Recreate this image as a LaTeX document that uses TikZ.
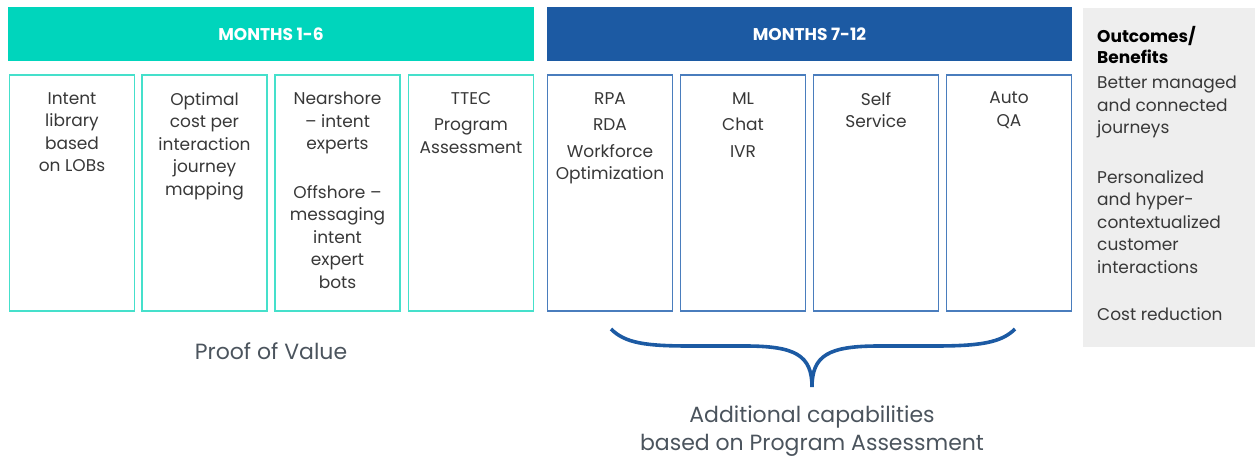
\documentclass[tikz,border=0pt]{standalone}
\usepackage{fontspec}
\setmainfont{Poppins}
\definecolor{teal1}{HTML}{00D5BC}
\definecolor{tealb}{HTML}{45E0CB}
\definecolor{blue1}{HTML}{1C5AA3}
\definecolor{blueb}{HTML}{4A7DBD}
\definecolor{gray1}{HTML}{EEEEEE}
\definecolor{txt}{HTML}{383838}
\definecolor{lbl}{HTML}{4B545D}
\begin{document}
\begin{tikzpicture}[x=1pt,y=-1pt,
  hdr/.style={fill=#1,draw=none,minimum height=54pt,text=white,font=\fontsize{17}{20}\selectfont\bfseries},
  cell/.style={draw=#1,line width=1.6pt,minimum height=236pt,minimum width=125pt,inner sep=0pt},
  ctext/.style={anchor=north,align=center,text=txt,font=\fontsize{17}{22.5}\selectfont,inner sep=0pt},
  otext/.style={anchor=north west,align=left,text=txt,font=\fontsize{17}{22.5}\selectfont,inner sep=0pt},
  captxt/.style={text=lbl,font=\fontsize{22}{28.5}\selectfont,align=center,inner sep=0pt}]
\useasboundingbox (0,0) rectangle (1255,460);
% headers
\node[hdr=teal1,minimum width=526pt] (h1) at (271,34) {MONTHS 1-6};
\node[hdr=blue1,minimum width=525pt] (h2) at (809.5,34) {MONTHS 7-12};
% outcomes panel
\node[fill=gray1,minimum width=172pt,minimum height=339pt,inner sep=0pt] (out) at (1169,177.5) {};
\node[otext,font=\fontsize{17}{21}\selectfont\bfseries,text=black] (ot) at (1097,26) {Outcomes/\\Benefits};
\node[otext] (o1) at (1097,76) {Better managed\\and connected\\journeys};
\node[otext] (o2) at (1097,170) {Personalized\\and hyper-\\contextualized\\customer\\interactions};
\node[otext] (o3) at (1097,307) {Cost reduction};
% teal cells
\node[cell=tealb] (t1) at (72,193) {};
\node[cell=tealb] (t2) at (204.5,193) {};
\node[cell=tealb] (t3) at (337.5,193) {};
\node[cell=tealb] (t4) at (471,193) {};
% blue cells
\node[cell=blueb] (b1) at (610,193) {};
\node[cell=blueb] (b2) at (743,193) {};
\node[cell=blueb] (b3) at (876,193) {};
\node[cell=blueb] (b4) at (1009,193) {};
% cell texts
\node[ctext] (t1x) at (72,92) {Intent\\library\\based\\on LOBs};
\node[ctext] (t2x) at (204.5,92) {Optimal\\cost per\\interaction\\journey\\mapping};
\node[ctext] (t3x) at (337.5,92) {Nearshore\\– intent\\experts\\[26pt]Offshore –\\messaging\\intent\\expert\\bots};
\node[ctext] (t4x) at (471,92) {TTEC\\[4pt]Program\\Assessment};
\node[ctext] (b1x) at (610,92) {RPA\\[4pt]RDA\\[4pt]Workforce\\Optimization};
\node[ctext] (b2x) at (743,92) {ML\\[4pt]Chat\\[4pt]IVR};
\node[ctext] (b3x) at (876,92) {Self\\Service};
\node[ctext] (b4x) at (1009,92) {Auto\\QA};
% captions
\node[captxt] (pov) at (271,351) {Proof of Value};
\node[captxt] (add) at (812,431) {Additional capabilities\\based on Program Assessment};
% brace
\coordinate (bl) at (611,329);
\coordinate (br) at (1015,329);
\coordinate (bt) at (812,387);
\draw[blue1,line width=3.6pt]
  (bl) .. controls (625,343) and (645,346) .. (690,346)
  -- (745,346) .. controls (795,346) and (812,355) .. (bt)
  .. controls (812,355) and (829,346) .. (879,346)
  -- (934,346) .. controls (979,346) and (1001,343) .. (br);
\end{tikzpicture}
\end{document}
